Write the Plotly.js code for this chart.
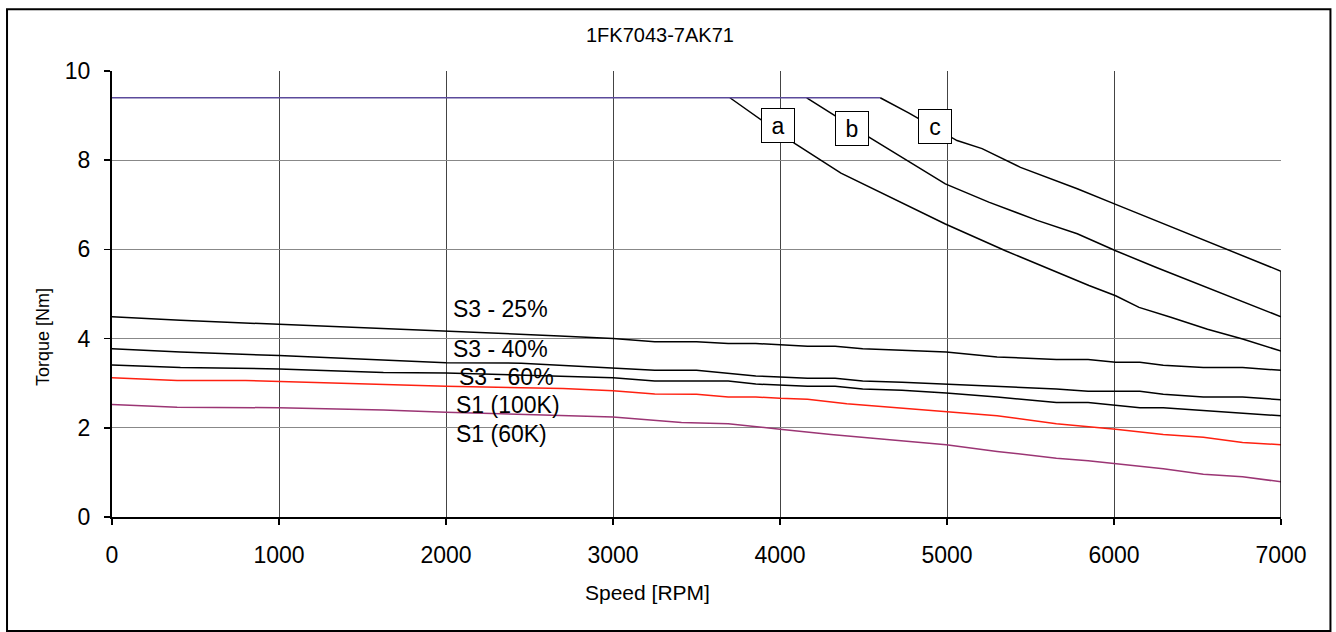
<!DOCTYPE html>
<html>
<head>
<meta charset="utf-8">
<script src="https://cdn.plot.ly/plotly-3.0.1.min.js"></script>
<style>html,body{margin:0;padding:0;background:#fff;}#chart{width:1336px;height:632px;}</style>
</head>
<body>
<div id="chart"></div>
<script>
// ---- data ----
var flatRpm = [0, 4600];
var flatTq = [9.40, 9.40];

var aRpm = [3700, 3890, 4090, 4365, 4640, 4990, 5350, 5850, 6010, 6150, 6340, 6560, 6770, 7000];
var aTq  = [9.40, 8.89, 8.37, 7.71, 7.21, 6.57, 5.97, 5.19, 4.96, 4.70, 4.48, 4.21, 3.99, 3.72];

var bRpm = [4160, 4330, 4540, 4990, 5250, 5540, 5780, 6010, 6250, 7000];
var bTq  = [9.40, 9.00, 8.50, 7.47, 7.06, 6.65, 6.35, 5.97, 5.60, 4.49];

var cRpm = [4600, 4770, 5060, 5210, 5440, 5780, 6010, 6250, 6720, 7000, 7000];
var cTq  = [9.40, 9.06, 8.44, 8.26, 7.84, 7.36, 7.01, 6.65, 5.94, 5.51, 0];

var s25Rpm = [0, 410, 1000, 2000, 2680, 3000, 3250, 3500, 3690, 3855, 4000, 4165, 4330, 4495, 4730, 4995, 5300, 5655, 5845, 6010, 6155, 6295, 6535, 6770, 7000];
var s25Tq  = [4.49, 4.41, 4.32, 4.17, 4.06, 4.00, 3.93, 3.93, 3.89, 3.89, 3.86, 3.83, 3.83, 3.77, 3.74, 3.70, 3.59, 3.53, 3.53, 3.47, 3.47, 3.40, 3.35, 3.35, 3.29];

var s40Rpm = [0, 410, 1000, 2000, 2450, 3000, 3250, 3500, 3855, 4000, 4165, 4330, 4495, 4730, 4995, 5300, 5655, 5845, 6155, 6295, 6535, 6770, 7000];
var s40Tq  = [3.77, 3.70, 3.62, 3.46, 3.45, 3.35, 3.29, 3.29, 3.16, 3.14, 3.11, 3.11, 3.05, 3.02, 2.98, 2.93, 2.87, 2.82, 2.82, 2.75, 2.69, 2.69, 2.63];

var s60Rpm = [0, 410, 1000, 1625, 2000, 3000, 3250, 3690, 3855, 4000, 4165, 4330, 4495, 4730, 4995, 5300, 5655, 5845, 6010, 6155, 6295, 6535, 6770, 7000];
var s60Tq  = [3.41, 3.35, 3.32, 3.24, 3.23, 3.12, 3.05, 3.05, 2.98, 2.96, 2.93, 2.93, 2.87, 2.84, 2.78, 2.69, 2.57, 2.57, 2.51, 2.45, 2.45, 2.39, 2.33, 2.27];

var s1hRpm = [0, 390, 800, 1000, 2000, 2700, 3000, 3250, 3500, 3690, 3855, 4000, 4165, 4400, 4710, 4995, 5300, 5655, 6010, 6295, 6535, 6770, 7000];
var s1hTq  = [3.12, 3.06, 3.06, 3.04, 2.93, 2.88, 2.83, 2.76, 2.75, 2.69, 2.69, 2.66, 2.64, 2.54, 2.45, 2.36, 2.27, 2.09, 1.97, 1.85, 1.79, 1.67, 1.62];

var s1lRpm = [0, 390, 1000, 1625, 2000, 3000, 3410, 3690, 4000, 4305, 4640, 4995, 5300, 5655, 5845, 6010, 6295, 6535, 6770, 7000];
var s1lTq  = [2.52, 2.46, 2.45, 2.40, 2.35, 2.24, 2.12, 2.09, 1.97, 1.85, 1.74, 1.62, 1.47, 1.32, 1.26, 1.20, 1.08, 0.96, 0.90, 0.79];

var chartTitle = "1FK7043-7AK71";
var xTitle = "Speed [RPM]";
var yTitle = "Torque [Nm]";
var curveLabels = ["S3 - 25%", "S3 - 40%", "S3 - 60%", "S1 (100K)", "S1 (60K)"];
var curveLabelRpm = [2030, 2030, 2065, 2050, 2050];
var curveLabelTq = [4.66, 3.77, 3.15, 2.52, 1.86];
var boxLabels = ["a", "b", "c"];
var boxRpm = [3990, 4432, 4930];
var boxTq = [8.77, 8.71, 8.76];

// ---- drawing ----
var FONT = "Liberation Sans, Arial, sans-serif";
function line(x, y, color, w) {
  return {x: x, y: y, type: "scatter", mode: "lines", hoverinfo: "skip",
          line: {color: color, width: w || 1.5}, showlegend: false};
}
var data = [
  line(s25Rpm, s25Tq, "#000000"),
  line(s40Rpm, s40Tq, "#000000"),
  line(s60Rpm, s60Tq, "#000000"),
  line(s1hRpm, s1hTq, "#ff2010"),
  line(s1lRpm, s1lTq, "#9b3574"),
  line(aRpm, aTq, "#000000"),
  line(bRpm, bTq, "#000000"),
  line(cRpm, cTq, "#000000"),
  line(flatRpm, flatTq, "#5b4a9b")
];

var annotations = [];
for (var i = 0; i < curveLabels.length; i++) {
  annotations.push({x: curveLabelRpm[i], y: curveLabelTq[i], xref: "x", yref: "y",
    text: curveLabels[i], showarrow: false, xanchor: "left", yanchor: "middle",
    font: {family: FONT, size: 23, color: "#000"}});
}
for (var j = 0; j < boxLabels.length; j++) {
  annotations.push({x: boxRpm[j], y: boxTq[j], xref: "x", yref: "y",
    text: boxLabels[j], showarrow: false, xanchor: "center", yanchor: "middle",
    width: 30, height: 31, bgcolor: "#ffffff", bordercolor: "#000000", borderwidth: 1, borderpad: 1,
    font: {family: FONT, size: 23, color: "#000"}});
}
annotations.push({x: 0.469, y: 1.081, xref: "paper", yref: "paper", text: chartTitle,
  showarrow: false, xanchor: "center", yanchor: "middle", font: {family: FONT, size: 20, color: "#000"}});
annotations.push({x: 0.4577, y: -0.170, xref: "paper", yref: "paper", text: xTitle,
  showarrow: false, xanchor: "center", yanchor: "middle", font: {family: FONT, size: 21, color: "#000"}});
annotations.push({x: -0.059, y: 0.4036, xref: "paper", yref: "paper", text: yTitle, textangle: -90,
  showarrow: false, xanchor: "center", yanchor: "middle", font: {family: FONT, size: 18, color: "#000"}});

var layout = {
  width: 1336, height: 632,
  margin: {l: 112, r: 55, t: 71, b: 115, pad: 0},
  paper_bgcolor: "#ffffff", plot_bgcolor: "#ffffff",
  font: {family: FONT, size: 20, color: "#000"},
  showlegend: false,
  xaxis: {range: [0, 7000], dtick: 1000, tick0: 0, showgrid: true, gridcolor: "#444444", gridwidth: 1,
          showline: true, linecolor: "#000", linewidth: 2, ticks: "outside", ticklen: 6, tickwidth: 1.5, tickcolor: "#000",
          zeroline: false, ticklabelstandoff: 10, tickfont: {family: FONT, size: 23, color: "#000"}, fixedrange: true},
  yaxis: {range: [0, 10], dtick: 2, tick0: 0, showgrid: true, gridcolor: "#888888", gridwidth: 1.2,
          showline: true, linecolor: "#000", linewidth: 2, ticks: "outside", ticklen: 6, tickwidth: 1.5, tickcolor: "#000",
          zeroline: false, ticklabelstandoff: 9, tickfont: {family: FONT, size: 23, color: "#000"}, fixedrange: true},
  shapes: [{type: "rect", xref: "paper", yref: "paper", x0: -0.0898, x1: 1.0423, y0: -0.2556, y1: 1.1383,
            line: {color: "#000", width: 2}, fillcolor: "rgba(0,0,0,0)", layer: "below"}],
  annotations: annotations
};
Plotly.newPlot("chart", data, layout, {displayModeBar: false, staticPlot: true});
</script>
</body>
</html>
